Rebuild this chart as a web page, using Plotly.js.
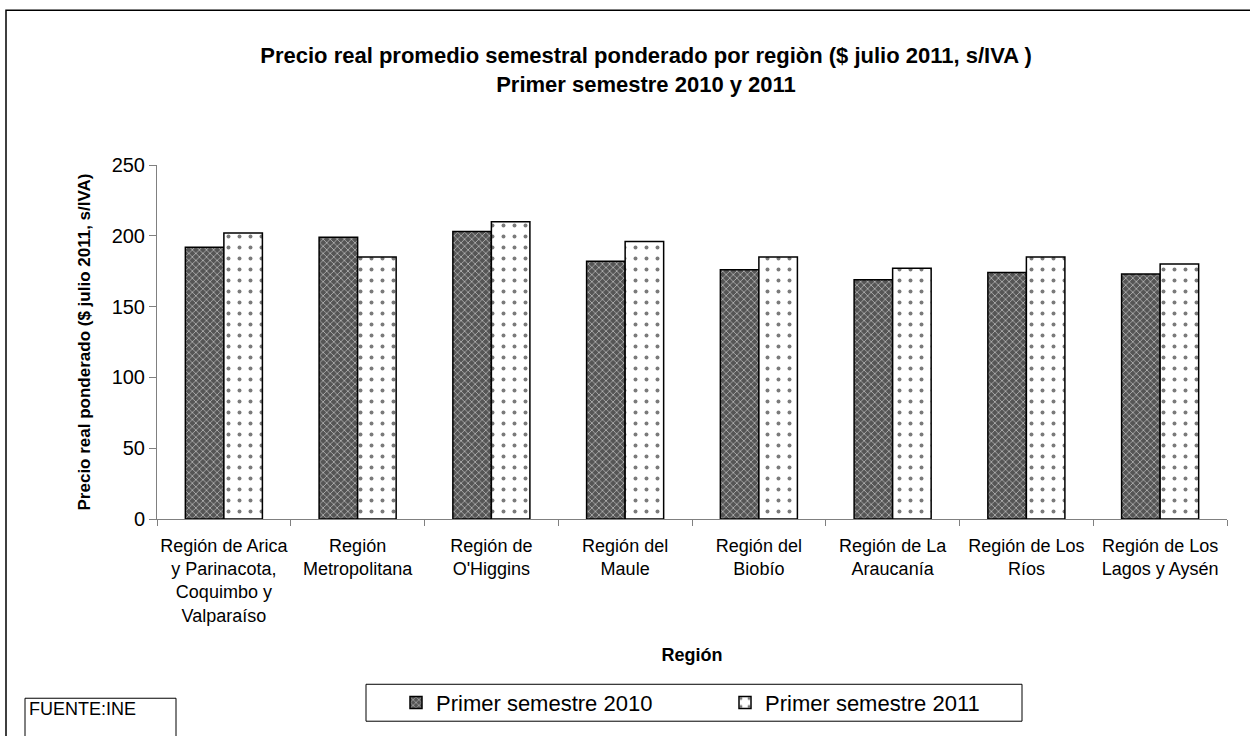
<!DOCTYPE html>
<html>
<head>
<meta charset="utf-8">
<script src="https://cdn.plot.ly/plotly-3.0.1.min.js"></script>
<style>
  html, body { margin: 0; padding: 0; background: #ffffff; }
  #chart { width: 1250px; height: 736px; }
</style>
</head>
<body>
<div id="chart"></div>
<script>
const regiones = [
  "Región de Arica<br>y Parinacota,<br>Coquimbo y<br>Valparaíso",
  "Región<br>Metropolitana",
  "Región de<br>O'Higgins",
  "Región del<br>Maule",
  "Región del<br>Biobío",
  "Región de La<br>Araucanía",
  "Región de Los<br>Ríos",
  "Región de Los<br>Lagos y Aysén"
];
const serie2010 = [192, 199, 203, 182, 176, 169, 174, 173];
const serie2011 = [202, 185, 210, 196, 185, 177, 185, 180];
const nombre2010 = "Primer semestre 2010";
const nombre2011 = "Primer semestre 2011";
const yTicks = [0, 50, 100, 150, 200, 250];

const FONT = "Arial, 'Liberation Sans', sans-serif";

const traces = [
  {
    type: "bar",
    name: nombre2010,
    x: regiones,
    y: serie2010,
    marker: {
      color: "#555555",
      line: { color: "#000000", width: 1.5 },
      pattern: { shape: "x", fgcolor: "#c8c8c8", bgcolor: "#555555", size: 5, solidity: 0.25 }
    },
    hoverinfo: "y+name"
  },
  {
    type: "bar",
    name: nombre2011,
    x: regiones,
    y: serie2011,
    marker: {
      color: "#ffffff",
      line: { color: "#000000", width: 1.5 },
      pattern: { shape: ".", fgcolor: "#7a7a7a", bgcolor: "#ffffff", size: 11, solidity: 0.1 }
    },
    hoverinfo: "y+name"
  }
];

// paper coordinate helpers (plot area: x 157..1227 px, y 165..519.5 px)
const L = 157, R = 1227, T = 165, B = 519.5;
const px = v => (v - L) / (R - L);
const py = v => (B - v) / (B - T);

const layout = {
  width: 1250,
  height: 736,
  margin: { l: L, r: 1250 - R, t: T, b: 736 - B, pad: 0 },
  paper_bgcolor: "#ffffff",
  plot_bgcolor: "#ffffff",
  font: { family: FONT, color: "#000000", size: 17 },
  barmode: "group",
  bargap: 0.424,
  bargroupgap: 0,
  showlegend: true,
  title: {
    text: "<b>Precio real promedio semestral ponderado por regiòn ($ julio 2011, s/IVA )<br>Primer semestre 2010 y 2011</b>",
    font: { family: FONT, size: 22, color: "#000000" },
    xref: "paper", x: px(646), xanchor: "center",
    yref: "container", y: 1 - 63 / 736, yanchor: "middle"
  },
  xaxis: {
    type: "category",
    showgrid: false,
    showline: true,
    linecolor: "#808080",
    linewidth: 1,
    ticks: "outside",
    tickson: "boundaries",
    ticklen: 6,
    tickcolor: "#808080",
    tickangle: 0,
    tickfont: { family: FONT, size: 18, color: "#000000" },
    ticklabelstandoff: 10,
    title: { text: "<b>Región</b>", font: { family: FONT, size: 18, color: "#000000" }, standoff: 23 },
    fixedrange: true
  },
  yaxis: {
    range: [0, 250],
    tickvals: yTicks,
    ticktext: yTicks.map(String),
    showgrid: false,
    zeroline: false,
    showline: true,
    linecolor: "#808080",
    linewidth: 1,
    ticks: "outside",
    ticklen: 7,
    tickcolor: "#808080",
    tickfont: { family: FONT, size: 20, color: "#000000" },
    title: { text: "<b>Precio real ponderado ($ julio 2011, s/IVA)</b>", font: { family: FONT, size: 17, color: "#000000" }, standoff: 16 },
    fixedrange: true
  },
  legend: {
    orientation: "h",
    xref: "paper", yref: "paper",
    x: px(396), xanchor: "left",
    y: py(703.5), yanchor: "middle",
    bgcolor: "rgba(0,0,0,0)",
    borderwidth: 0,
    font: { family: FONT, size: 22, color: "#000000" },
    entrywidth: 284,
    entrywidthmode: "pixels",
    itemwidth: 30,
    traceorder: "normal"
  },
  shapes: [
    // outer chart border
    { type: "rect", xref: "paper", yref: "paper", x0: px(6), x1: px(1256), y0: py(745), y1: py(10),
      line: { color: "#000000", width: 1.5 }, fillcolor: "rgba(0,0,0,0)", layer: "below" },
    // legend box
    { type: "rect", xref: "paper", yref: "paper", x0: px(366), x1: px(1022), y0: py(722), y1: py(685),
      line: { color: "#000000", width: 1 }, fillcolor: "rgba(0,0,0,0)" },
    // source box
    { type: "rect", xref: "paper", yref: "paper", x0: px(25), x1: px(176), y0: py(745), y1: py(699),
      line: { color: "#000000", width: 1 }, fillcolor: "rgba(0,0,0,0)" }
  ],
  annotations: [
    { text: "FUENTE:INE", xref: "paper", yref: "paper", x: px(27), y: py(710), xanchor: "left", yanchor: "middle",
      showarrow: false, font: { family: FONT, size: 18, color: "#000000" } }
  ]
};

Plotly.newPlot("chart", traces, layout, { displayModeBar: false, responsive: false });
</script>
</body>
</html>
